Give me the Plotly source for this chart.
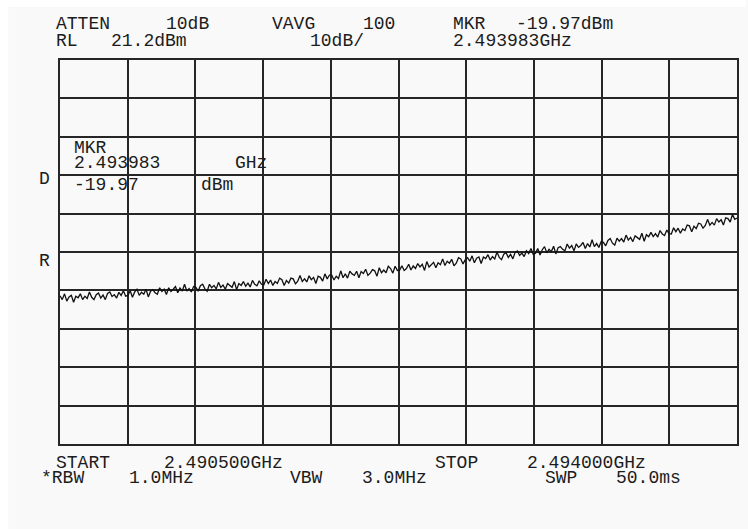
import numpy as np
import plotly.graph_objects as go

# Sweep settings (MHz / dBm)
start_mhz = 2490.5
stop_mhz = 2494.0
ref_level = 21.2
db_per_div = 10
n_div = 10

# Trace amplitude readings (dBm), 30 per horizontal division
trace_dbm = [
    -40.2, -41.2, -39.7, -41.6, -40.5, -40.1, -41.9, -40.3, -40.7, -39.7,
    -41.2, -40.3, -40.9, -39.2, -40.6, -41.2, -39.9, -39.5, -40.8, -40.0,
    -41.2, -39.6, -39.2, -40.4, -39.9, -40.8, -39.3, -40.1, -38.9, -40.3,
    -40.1, -38.9, -40.6, -39.2, -38.5, -40.1, -39.3, -39.8, -38.5, -40.5,
    -39.0, -38.6, -39.4, -39.8, -38.1, -39.1, -38.5, -39.9, -38.1, -39.1,
    -38.5, -37.8, -39.4, -38.2, -39.0, -37.2, -39.0, -38.3, -39.2, -37.8,
    -38.0, -39.0, -37.6, -37.2, -38.4, -39.0, -37.2, -38.1, -37.5, -38.4,
    -36.7, -38.0, -37.4, -38.5, -37.0, -37.5, -38.0, -36.5, -38.6, -37.0,
    -37.5, -36.5, -37.7, -36.9, -37.9, -36.2, -37.2, -37.6, -36.3, -37.2,
    -37.4, -35.9, -37.0, -36.1, -37.5, -36.5, -37.0, -35.6, -36.0, -37.5,
    -36.2, -36.9, -35.6, -35.8, -37.1, -36.4, -34.9, -36.5, -35.8, -36.6,
    -35.0, -36.0, -35.4, -37.0, -35.1, -35.4, -36.4, -34.5, -35.8, -34.8,
    -34.8, -36.1, -35.1, -35.7, -33.7, -35.5, -34.5, -35.6, -33.8, -34.5,
    -34.9, -33.8, -35.5, -33.9, -34.4, -33.3, -34.9, -34.3, -33.4, -33.7,
    -35.1, -32.9, -34.2, -33.5, -34.2, -32.5, -33.1, -34.3, -32.5, -33.6,
    -33.5, -32.4, -33.6, -33.1, -32.0, -33.5, -32.4, -33.1, -31.8, -32.7,
    -32.0, -33.6, -31.3, -32.7, -32.0, -31.5, -32.9, -31.6, -32.1, -30.6,
    -32.3, -31.2, -31.7, -30.7, -32.4, -31.7, -30.3, -30.6, -31.9, -30.8,
    -30.3, -31.2, -29.8, -31.6, -30.4, -30.1, -31.8, -30.1, -30.5, -29.5,
    -30.9, -30.0, -30.6, -28.8, -30.2, -30.8, -29.4, -29.0, -30.2, -29.4,
    -30.6, -28.9, -28.5, -29.7, -29.1, -30.0, -28.5, -29.2, -27.9, -29.4,
    -29.1, -27.9, -29.6, -28.2, -27.4, -29.0, -28.1, -28.7, -27.3, -29.3,
    -27.7, -27.4, -28.1, -28.5, -26.7, -27.8, -27.1, -28.5, -26.7, -27.6,
    -27.1, -26.3, -27.9, -26.6, -27.5, -25.6, -27.4, -26.6, -27.6, -26.1,
    -26.3, -27.2, -25.8, -25.3, -26.5, -27.0, -25.2, -26.0, -25.3, -26.2,
    -24.4, -25.7, -25.0, -26.1, -24.6, -25.0, -25.5, -23.9, -26.0, -24.3,
    -24.8, -23.7, -24.8, -24.0, -24.9, -23.2, -24.1, -24.5, -23.1, -24.0,
    -24.1, -22.5, -23.5, -22.6, -23.9, -22.8, -23.2, -21.8, -22.0, -23.5,
    -22.1, -22.7, -21.3, -21.5, -22.6, -21.9, -20.3, -21.8, -21.1, -21.8,
    -20.1, -21.0, -20.4, -21.8, -19.9, -20.1, -21.0, -19.0, -20.3, -19.97,
]

freq_mhz = np.linspace(start_mhz, stop_mhz, len(trace_dbm))

W, H = 748, 529
ML, MR, MT, MB = 60, 9, 60, 85
PW, PH = W - ML - MR, H - MT - MB

def px(x):
    return (x - ML) / PW

def py(y):
    return (H - MB - y) / PH

INK = "#1c1c1c"
FONT = "Liberation Mono, Cousine, 'Courier New', 'DejaVu Sans Mono', monospace"

fig = go.Figure()
fig.add_trace(go.Scatter(
    x=freq_mhz, y=trace_dbm, mode="lines",
    line=dict(color="#111111", width=1.3),
    hoverinfo="skip", showlegend=False,
))

span = stop_mhz - start_mhz
fig.update_xaxes(
    range=[start_mhz, stop_mhz], tick0=start_mhz, dtick=span / n_div,
    showgrid=True, gridcolor="#262626", gridwidth=1.6,
    showline=True, mirror=True, linecolor="#262626", linewidth=1.8,
    showticklabels=False, ticks="", zeroline=False,
)
fig.update_yaxes(
    range=[ref_level - db_per_div * n_div, ref_level], tick0=ref_level, dtick=db_per_div,
    showgrid=True, gridcolor="#262626", gridwidth=1.6,
    showline=True, mirror=True, linecolor="#262626", linewidth=1.8,
    showticklabels=False, ticks="", zeroline=False,
)

labels = [
    # (text, left x px, center y px)
    ("ATTEN", 55, 24.5), ("10dB", 165, 24.5), ("VAVG", 272, 24.5), ("100", 363, 24.5),
    ("MKR", 453, 24.5), ("-19.97dBm", 516, 24.5),
    ("RL", 55, 40.5), ("21.2dBm", 110, 40.5), ("10dB/", 310, 40.5), ("2.493983GHz", 453, 40.5),
    ("MKR", 73, 147.5), ("2.493983", 73, 163), ("GHz", 235, 163),
    ("-19.97", 73, 185), ("dBm", 200, 185),
    ("D", 38, 179), ("R", 38, 261),
    ("START", 55, 463), ("2.490500GHz", 163, 463), ("STOP", 435, 463), ("2.494000GHz", 527, 463),
    ("*RBW", 40, 478), ("1.0MHz", 128, 478), ("VBW", 290, 478), ("3.0MHz", 362, 478),
    ("SWP", 545, 478), ("50.0ms", 617, 478),
]
for text, x, y in labels:
    fig.add_annotation(
        text=text, x=px(x), y=py(y), xref="paper", yref="paper",
        xanchor="left", yanchor="middle", showarrow=False, borderpad=0,
        font=dict(family=FONT, size=18, color=INK),
    )

# white strips framing the screen capture
fig.add_shape(type="rect", xref="paper", yref="paper", layer="below",
              x0=px(0), x1=px(8), y0=py(H), y1=py(0),
              fillcolor="white", line=dict(width=0))
fig.add_shape(type="rect", xref="paper", yref="paper", layer="below",
              x0=px(0), x1=px(W), y0=py(7), y1=py(0),
              fillcolor="white", line=dict(width=0))

fig.update_layout(
    width=W, height=H,
    margin=dict(l=ML, r=MR, t=MT, b=MB),
    paper_bgcolor="#f9f9f9", plot_bgcolor="#f9f9f9",
    showlegend=False,
)

fig.write_html("out.html", config={"displayModeBar": False})
